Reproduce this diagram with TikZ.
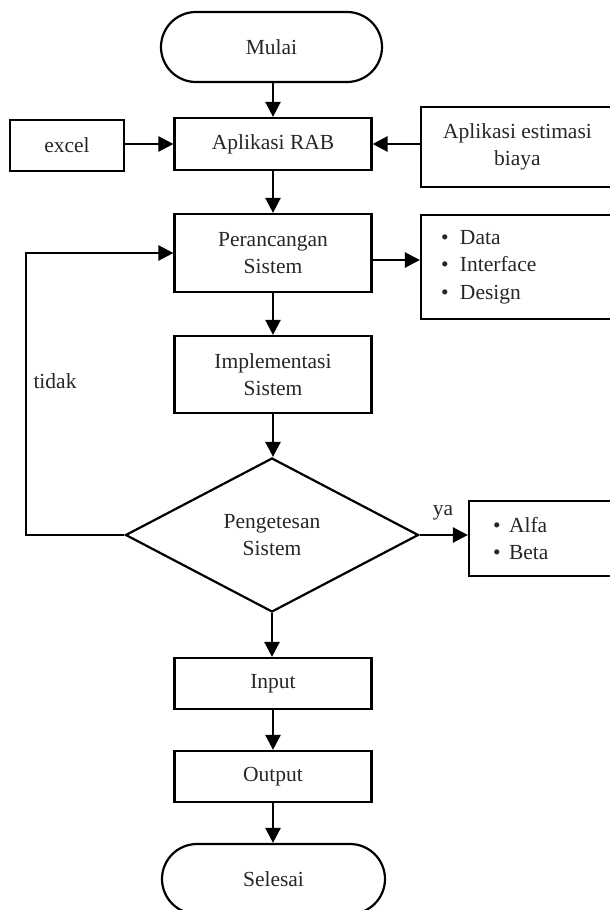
\documentclass[tikz,border=0pt]{standalone}
\usepackage{fontspec}
\setmainfont{Liberation Serif}
\usetikzlibrary{shapes.geometric,arrows.meta}
\begin{document}
\begin{tikzpicture}[x=1pt,y=-1pt,
  every node/.style={font=\fontsize{21.5}{27.5}\selectfont, text=black!85},
  box/.style={draw=black, line width=2.2pt, rectangle, inner sep=0pt, align=center},
  term/.style={draw=black, line width=2.2pt, rectangle, rounded corners=35pt, inner sep=0pt, minimum height=70pt},
  dec/.style={draw=black, line width=2.2pt, diamond, inner sep=0pt, aspect=1.9, minimum width=293pt, minimum height=154pt, align=center},
  arr/.style={draw=black, line width=2.5pt, -{Triangle[length=15pt,width=15pt]}},
  lbl/.style={inner sep=0pt}
]
\useasboundingbox (0,0) rectangle (610,910);

\node[term, minimum width=221pt] (mulai) at (271.5,47) {Mulai};
\node[box, minimum width=197pt, minimum height=52pt] (rab) at (273,144) {Aplikasi RAB};
\node[box, minimum width=114pt, minimum height=51pt] (excel) at (67,145.5) {excel};
\node[box, minimum width=193pt, minimum height=80pt] (est) at (517.5,147) {Aplikasi estimasi\\biaya};
\node[box, minimum width=197pt, minimum height=78pt] (per) at (273,253) {Perancangan\\Sistem};
\node[box, minimum width=193pt, minimum height=104pt, align=left, text width=153pt, inner xsep=20pt] (dat) at (517.5,267)
  {\makebox[19pt][l]{\textbullet}Data\\\makebox[19pt][l]{\textbullet}Interface\\\makebox[19pt][l]{\textbullet}Design};
\node[box, minimum width=197pt, minimum height=77pt] (imp) at (273,374.5) {Implementasi\\Sistem};
\node[dec] (dia) at (272,535) {Pengetesan\\Sistem};
\node[box, minimum width=145pt, minimum height=75pt, align=left, text width=97pt, inner xsep=24pt] (alfa) at (541.5,538.5)
  {\makebox[16pt][l]{\textbullet}Alfa\\\makebox[16pt][l]{\textbullet}Beta};
\node[box, minimum width=197pt, minimum height=51pt] (inp) at (273,683.5) {Input};
\node[box, minimum width=197pt, minimum height=51pt] (out) at (273,776.5) {Output};
\node[term, minimum width=223pt] (sel) at (273.5,879) {Selesai};

\node[lbl] (tidak) at (55,381) {tidak};
\node[lbl] (ya) at (443,513) {ya};
\coordinate (loop) at (26,535);

\draw[arr] (mulai.south -| rab.north) -- (rab.north);
\draw[arr] (excel.east |- rab.east) -- (rab.west);
\draw[arr] (est.west |- rab.east) -- (rab.east);
\draw[arr] (rab.south) -- (per.north);
\draw[arr] ([yshift=-7pt]per.east) -- ([yshift=-7pt]per.east -| dat.west);
\draw[arr] (per.south) -- (imp.north);
\draw[arr] (imp.south) -- (imp.south |- dia.north);
\draw[arr] (dia.west) -- (loop) |- (per.west);
\draw[arr] (dia.east) -- (dia.east -| alfa.west);
\draw[arr] (dia.south) -- (dia.south |- inp.north);
\draw[arr] (inp.south) -- (inp.south |- out.north);
\draw[arr] (out.south) -- (out.south |- sel.north);
\end{tikzpicture}
\end{document}
